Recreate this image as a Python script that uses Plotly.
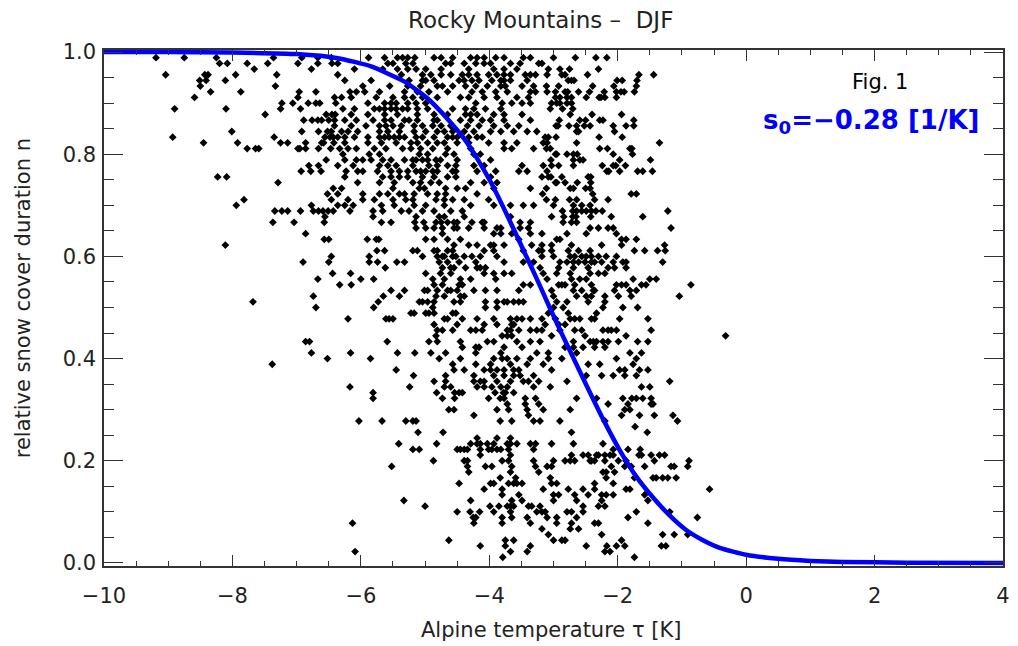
import plotly.graph_objects as go

# Alpine temperature tau [K] of each station-season, grouped by snow-cover days (out of 90 DJF days)
d89 = [-9.19, -8.75, -8.25, -7.36, -6.92, -6.67, -6.46, -5.88, -5.63, -5.43, -5.35, -5.27, -5.16, -4.86, -4.75, -4.57, -4.29, -4.19, -4.08, -3.90, -3.77, -3.47, -3.36, -3.00, -2.66, -2.34, -2.17]
d88 = [-8.20, -8.08, -7.77, -7.45, -6.98, -6.67, -6.45, -6.36, -5.58, -5.50, -5.30, -5.19, -4.68, -4.60, -4.39, -4.21, -4.08, -3.98, -3.67, -3.52, -3.23, -3.18]
d87 = [-7.66, -6.77, -6.10, -5.66, -5.43, -5.27, -5.14, -4.99, -4.75, -4.32, -3.93, -3.77, -3.57, -3.08, -2.90, -2.75, -2.30]
d86 = [-9.04, -8.43, -8.38, -7.95, -7.31, -6.36, -5.37, -5.04, -4.91, -4.75, -4.60, -4.42, -4.32, -4.19, -4.01, -3.88, -3.77, -3.67, -3.44, -3.36, -3.28, -3.10, -2.87, -2.82, -2.47, -1.67, -1.44]
d85 = [-8.51, -8.41, -8.11, -6.25, -5.84, -5.25, -5.04, -4.99, -4.86, -4.47, -4.39, -4.27, -4.16, -3.96, -3.82, -3.77, -3.67, -3.41, -2.77, -2.72, -2.68, -2.01, -1.93, -1.70]
d84 = [-8.50, -7.33, -5.97, -5.55, -5.27, -5.07, -4.81, -4.73, -4.57, -4.37, -4.21, -4.03, -3.82, -3.75, -3.49, -3.31, -3.11, -2.92, -2.39, -2.06, -1.71]
d83 = [-8.34, -7.87, -6.96, -6.70, -6.17, -6.07, -5.94, -5.71, -5.32, -5.12, -4.94, -4.65, -4.27, -4.11, -3.90, -3.72, -3.36, -3.28, -3.10, -2.97, -2.82, -2.78, -2.61, -2.44, -2.21, -2.02, -1.95, -1.90, -1.74]
d82 = [-8.59, -6.98, -6.41, -6.30, -6.15, -5.76, -5.50, -5.32, -5.19, -5.04, -4.81, -4.45, -4.32, -4.08, -3.88, -3.57, -3.39, -2.97, -2.90, -2.79, -2.72, -2.49, -2.29, -2.26, -2.20, -2.02]
d81 = [-7.23, -7.06, -6.82, -6.70, -6.64, -6.39, -5.89, -5.63, -5.53, -5.45, -5.27, -5.14, -4.99, -4.21, -3.80, -3.65, -3.49, -3.36, -3.03, -2.95, -2.90, -2.79, -2.72]
d80 = [-8.90, -8.10, -7.25, -6.94, -6.28, -6.10, -5.79, -5.71, -5.63, -5.53, -5.45, -5.35, -5.27, -5.12, -4.96, -4.57, -4.37, -4.24, -4.06, -3.82, -3.05, -2.86, -2.70]
d79 = [-7.49, -6.54, -6.45, -6.40, -6.15, -5.89, -5.63, -5.43, -5.12, -4.86, -4.65, -4.37, -4.29, -4.19, -3.93, -3.77, -3.49, -2.74, -2.40, -1.94]
d78 = [-6.89, -6.76, -6.67, -6.61, -6.50, -6.41, -6.25, -6.07, -5.81, -5.63, -5.53, -5.32, -5.25, -5.12, -4.86, -4.81, -4.45, -4.29, -4.11, -3.98, -3.77, -3.36, -2.91, -2.59, -2.50, -2.28, -2.23, -1.75]
d77 = [-6.41, -6.15, -5.92, -5.71, -5.61, -5.50, -5.37, -5.17, -5.04, -4.88, -4.75, -4.60, -4.34, -4.16, -3.93, -3.72, -3.54, -2.96, -2.93, -2.76, -2.64, -2.52, -2.43, -2.07, -1.87, -1.75]
d76 = [-8.01, -6.92, -6.66, -6.52, -6.46, -6.30, -6.20, -6.05, -5.71, -5.58, -5.40, -5.17, -4.99, -4.81, -4.70, -4.57, -4.39, -4.24, -3.98, -3.82, -3.62, -3.41, -3.26, -2.64, -2.61, -2.05]
d75 = [-8.93, -7.35, -6.56, -6.48, -6.43, -6.36, -6.25, -6.10, -5.89, -5.71, -5.63, -5.56, -5.48, -5.40, -5.32, -5.14, -5.04, -4.86, -4.65, -4.57, -4.50, -4.32, -4.19, -4.11, -3.13, -3.08, -2.96, -2.29, -1.93]
d74 = [-8.45, -7.92, -7.25, -7.14, -6.86, -6.61, -6.58, -6.42, -6.25, -5.89, -5.68, -5.45, -5.22, -5.12, -4.96, -4.81, -4.70, -4.50, -4.32, -4.01, -3.77, -3.57, -3.16, -3.10, -2.64, -1.35]
d73 = [-7.77, -7.64, -7.59, -6.98, -6.95, -6.86, -6.66, -6.47, -6.33, -6.20, -6.07, -5.79, -5.61, -5.35, -5.22, -5.07, -4.88, -4.65, -4.29, -3.77, -3.65, -3.31, -3.11, -3.05, -2.28, -2.16, -1.81, -1.78]
d72 = [-6.28, -5.87, -5.71, -5.09, -4.96, -4.68, -4.55, -4.24, -4.14, -2.97, -2.95, -2.79, -2.69, -2.63, -2.07, -1.77]
d71 = [-6.54, -6.25, -6.07, -5.97, -5.84, -5.66, -5.53, -5.32, -5.19, -5.14, -5.04, -4.96, -4.83, -4.76, -4.50, -3.98, -3.04, -2.69, -2.59, -2.54, -1.97, -1.49]
d70 = [-6.81, -6.66, -6.36, -6.12, -5.71, -5.58, -5.45, -5.19, -4.94, -4.81, -4.65, -4.52, -4.24, -4.08, -3.49, -3.16, -3.03, -2.92, -2.69, -2.24, -2.07, -2.03, -1.88]
d69 = [-6.93, -6.78, -6.62, -6.23, -6.05, -5.97, -5.74, -5.53, -5.40, -5.27, -5.14, -5.07, -4.99, -4.88, -4.81, -4.57, -4.52, -4.19, -3.90, -3.54, -3.41, -3.10, -2.17, -2.14, -1.97, -1.69, -1.61, -1.46]
d68 = [-8.23, -8.09, -6.25, -5.66, -5.53, -5.40, -5.27, -5.04, -4.86, -4.65, -4.52, -3.98, -3.18, -3.08, -3.04, -2.87, -2.46, -2.42]
d67 = [-7.29, -6.05, -5.71, -5.48, -5.19, -5.07, -4.91, -4.78, -4.29, -4.08, -3.88, -2.97, -2.95, -2.82, -2.63, -2.42]
d66 = [-6.43, -6.30, -5.50, -5.09, -5.01, -4.68, -4.50, -4.37, -3.93, -3.36, -3.11, -2.74, -2.69, -2.50, -2.43]
d65 = [-6.52, -6.36, -5.97, -5.71, -5.58, -5.40, -5.32, -5.17, -4.96, -4.81, -4.68, -4.19, -3.17, -2.39, -1.79, -1.71]
d64 = [-7.82, -6.46, -6.20, -5.97, -5.79, -5.50, -5.30, -5.19, -4.83, -4.70, -4.57, -4.39, -4.01, -3.11, -2.97, -2.75, -2.64, -2.36, -2.15]
d63 = [-7.94, -6.77, -6.36, -6.25, -6.12, -5.68, -5.48, -5.17, -4.99, -4.70, -4.29, -3.93, -3.67, -3.47, -3.31, -3.00, -2.69, -2.56, -2.43]
d62 = [-7.34, -7.23, -7.14, -6.94, -6.74, -6.66, -6.59, -6.51, -6.43, -6.17, -5.81, -5.66, -5.37, -5.25, -5.04, -4.86, -4.60, -4.42, -2.86, -2.70, -2.64, -2.56, -2.49, -2.41, -2.34, -2.24, -1.22]
d61 = [-6.56, -5.81, -5.14, -4.78, -4.70, -4.39, -3.67, -3.03, -2.84, -2.70, -2.65, -2.42, -2.10, -1.61]
d60 = [-7.37, -7.04, -6.57, -5.68, -5.53, -5.16, -5.02, -4.83, -4.75, -4.65, -4.55, -4.50, -4.27, -4.11, -4.08, -3.52, -3.36, -2.85, -2.72, -2.64]
d59 = [-5.14, -4.99, -4.86, -4.73, -4.55, -4.50, -4.32, -4.08, -3.88, -3.82, -3.52, -3.39, -2.43, -2.30, -2.15, -2.07, -1.17]
d58 = [-6.86, -4.73, -3.93, -3.82, -3.65, -3.36, -3.18, -2.79, -2.49, -2.02]
d57 = [-6.57, -6.50, -5.90, -5.76, -5.72, -4.99, -4.86, -4.65, -4.45, -3.54, -2.95, -2.90, -1.94, -1.87, -1.71]
d56 = [-8.11, -4.55, -4.32, -4.19, -3.98, -3.93, -3.77, -3.34, -3.18, -3.03, -2.72, -2.25, -1.94, -1.27]
d55 = [-5.75, -5.63, -5.19, -5.12, -4.86, -4.81, -4.65, -4.57, -4.08, -3.93, -3.47, -3.23, -3.18, -3.03, -2.77, -2.61, -2.43, -1.74, -1.58, -1.38, -1.26]
d54 = [-6.46, -5.87, -5.04, -4.81, -4.73, -4.70, -4.57, -4.52, -4.39, -4.27, -4.14, -3.88, -3.18, -3.00, -2.74, -2.67, -2.56, -2.49, -2.41, -2.30, -2.18, -2.02]
d53 = [-6.90, -6.50, -5.87, -5.74, -5.44, -5.32, -4.78, -4.65, -4.47, -4.21, -3.77, -3.47, -3.31, -2.90, -2.79, -2.69, -2.61, -2.51, -2.41, -2.36, -2.25, -2.07, -1.92, -1.87, -1.30]
d52 = [-5.62, -4.73, -4.60, -4.55, -4.37, -4.19, -4.14, -4.06, -3.21, -2.92, -2.69, -2.46, -2.15, -2.05, -1.87]
d51 = [-6.44, -6.16, -4.99, -4.76, -4.60, -4.08, -3.93, -3.77, -3.65, -3.16, -2.95, -2.74, -2.43, -2.30, -2.20]
d50 = [-6.67, -6.00, -5.80, -4.88, -4.70, -4.45, -4.29, -3.90, -3.10, -2.72, -2.59, -2.49, -1.76, -1.50, -1.40]
d49 = [-6.33, -6.15, -4.86, -4.73, -4.47, -4.42, -3.47, -3.36, -2.92, -2.87, -2.82, -2.67, -2.41, -2.02, -1.94, -1.87, -1.63, -1.56, -0.86]
d48 = [-5.53, -5.32, -5.01, -4.96, -4.81, -4.65, -4.60, -4.50, -4.24, -4.06, -3.88, -3.54, -3.03, -2.69, -2.56, -2.38, -2.36, -2.05, -1.81, -1.71]
d47 = [-6.74, -5.65, -5.40, -4.83, -4.70, -4.45, -4.39, -3.00, -2.64, -2.49, -2.41, -2.20, -1.99, -1.79, -1.04]
d46 = [-7.68, -5.73, -5.09, -5.04, -4.96, -4.86, -4.55, -4.45, -4.06, -3.88, -3.77, -3.72, -3.62, -3.54, -3.47, -2.95, -2.79, -2.46, -2.20]
d45 = [-6.70, -5.80, -4.88, -4.06, -3.88, -3.00, -2.85, -2.23, -1.92, -1.69]
d44 = [-5.22, -5.17, -4.99, -4.94, -4.86, -4.57, -4.52, -3.08, -2.77, -2.33]
d43 = [-6.20, -5.61, -5.56, -5.50, -4.70, -4.65, -4.42, -4.19, -3.93, -3.67, -3.57, -3.49, -3.36, -3.18, -2.97, -2.74, -2.67, -2.59, -2.41, -2.36, -1.97, -1.53]
d42 = [-4.86, -4.50, -4.08, -3.88, -3.65, -3.62, -3.13, -2.92, -2.82]
d41 = [-4.81, -4.73, -4.57, -4.29, -4.21, -4.11, -3.72, -3.67, -3.54, -3.36, -3.26, -3.18, -2.90, -2.67, -2.56, -2.23, -2.15, -2.10, -2.02, -1.48]
d40 = [-4.83, -3.80, -3.72, -3.65, -3.03, -2.51, -1.87, -0.32]
d39 = [-6.86, -6.80, -5.59, -4.94, -4.81, -4.45, -4.03, -3.93, -3.57, -3.36, -3.21, -2.69, -2.43, -2.38, -2.33, -2.23, -2.15, -1.99, -1.69, -1.53]
d38 = [-4.42, -4.21, -4.16, -3.77, -3.49, -2.82, -2.69, -2.54, -2.36, -2.20]
d37 = [-6.77, -6.16, -5.43, -5.16, -4.91, -4.68, -4.21, -3.82, -3.26, -3.08, -2.64, -1.81, -1.63]
d36 = [-6.52, -5.85, -4.78, -4.45, -3.93, -3.80, -3.72, -3.57, -3.36, -3.08, -2.87, -2.02, -1.71]
d35 = [-7.38, -4.57, -4.21, -3.98, -3.67, -3.41, -3.16, -2.46, -2.28, -1.76]
d34 = [-5.45, -4.55, -4.39, -4.08, -3.98, -3.88, -3.77, -3.62, -3.54, -3.03, -1.97, -1.89, -1.66, -1.53]
d33 = [-5.18, -4.68, -4.24, -3.93, -3.77, -3.62, -3.52, -3.31, -2.49, -2.25, -2.07, -1.89, -1.71]
d32 = [-4.86, -4.68, -4.24, -4.14, -4.08, -3.88, -3.67, -3.47, -3.39, -3.23, -2.79, -1.19]
d31 = [-6.17, -5.24, -4.70, -4.60, -4.19, -4.08, -3.96, -3.82, -3.72, -3.31, -3.05, -1.63, -1.50]
d30 = [-5.81, -4.82, -4.54, -4.47, -4.42, -3.91, -3.78, -3.75, -3.62]
d29 = [-5.81, -4.73, -4.54, -4.01, -3.83, -3.77, -3.44, -3.28, -2.64, -2.33, -1.92, -1.78, -1.71, -1.61, -1.48]
d28 = [-3.72, -3.44, -3.23, -2.15, -1.84, -1.48, -1.45]
d27 = [-4.63, -4.55, -3.88, -3.70, -3.41, -3.16, -2.74, -1.89, -1.81]
d26 = [-4.24, -3.39, -1.94, -1.66, -1.43, -1.14]
d25 = [-6.03, -5.67, -5.30, -5.19, -5.14, -3.83, -3.65, -3.31, -3.21, -2.90, -2.20, -1.07]
d24 = [-1.73]
d23 = [-5.11, -4.72, -2.72, -1.54]
d22 = [-4.19, -3.88, -3.67]
d21 = [-5.41, -4.82, -4.29, -4.19, -4.14, -4.03, -3.93, -3.72, -3.67, -3.57, -3.36, -3.28, -3.03, -2.69, -2.23]
d20 = [-5.19, -5.09, -4.50, -4.45, -4.39, -4.34, -4.14, -4.01, -3.96, -3.88, -3.82, -3.70, -3.31, -2.07, -1.84, -1.65]
d19 = [-4.14, -3.67, -2.72, -2.54, -2.46, -2.33, -2.30, -2.20, -2.12, -2.07, -1.67, -1.63, -1.48, -1.35, -1.27]
d18 = [-4.87, -4.39, -4.34, -3.80, -3.70, -3.31, -3.00, -2.82, -2.74, -2.67, -2.43, -2.41, -2.36, -2.20, -1.99, -1.87, -1.43, -0.89]
d17 = [-5.52, -4.34, -4.06, -3.96, -3.65, -3.28, -3.10, -3.03, -2.10, -1.89, -1.79, -1.58, -1.17, -1.12, -0.91]
d16 = [-4.32, -3.67, -3.23, -2.23, -2.18, -2.05]
d15 = [-3.83, -3.59, -3.05, -2.18, -1.74, -1.45, -1.40, -1.30, -1.22, -1.09]
d14 = [-4.47, -3.98, -3.93, -3.70, -3.62, -3.57, -3.49, -3.03, -2.95, -2.36, -2.07]
d13 = [-4.08, -3.80, -3.16, -2.77, -2.54, -2.36, -1.87, -1.81, -0.57]
d12 = [-3.80, -3.54, -3.00, -2.92, -2.67, -2.46, -2.25, -2.18, -2.07, -1.58]
d11 = [-5.33, -4.29, -3.65, -3.49, -3.00, -2.64, -2.25, -1.53]
d10 = [-5.00, -3.99, -3.85, -3.72, -3.67, -3.62, -3.39, -3.34, -3.21, -2.54, -2.30, -2.20]
d09 = [-4.50, -4.30, -4.15, -3.93, -3.67, -3.26, -3.18, -3.13, -2.79, -2.72, -2.54, -1.71, -1.19]
d08 = [-4.25, -4.21, -3.80, -3.65, -3.41, -3.10, -2.95, -2.64, -1.84, -0.76]
d07 = [-6.13, -4.24, -3.80, -3.36, -2.95, -2.72, -2.36, -2.30, -1.53]
d06 = [-3.18, -2.74, -2.61]
d05 = [-3.08, -2.25, -1.30, -1.12, -0.91]
d04 = [-4.63, -3.75, -3.62, -3.00, -2.87, -2.82, -1.94]
d03 = [-4.14, -3.75, -3.36, -2.49, -2.17, -2.02, -1.89, -1.32, -1.25]
d02 = [-6.09, -3.67, -3.41, -2.20, -2.12]
d01 = [-3.79, -1.74]

SEASON_DAYS = 90  # DJF

# fitted curve
curve_tau = [-10.0, -9.0, -8.0, -7.0, -6.36, -5.84, -5.32, -4.96, -4.65, -4.39, -4.19, -3.98, -3.72,
             -3.46, -3.26, -3.06, -2.85, -2.64, -2.48, -2.23, -1.97, -1.71, -1.45, -1.20, -0.94, -0.68,
             -0.40, 0.0, 0.5, 1.0, 1.5, 2.5, 4.0]
curve_n = [1.0, 1.0, 0.999, 0.996, 0.988, 0.972, 0.942, 0.909, 0.869, 0.830, 0.792, 0.746, 0.680,
           0.610, 0.556, 0.500, 0.443, 0.388, 0.346, 0.282, 0.221, 0.169, 0.128, 0.094, 0.065, 0.045,
           0.029, 0.016, 0.008, 0.004, 0.002, 0.0005, 0.0]

x_ticks = [-10, -8, -6, -4, -2, 0, 2, 4]
y_ticks = [0.0, 0.2, 0.4, 0.6, 0.8, 1.0]

tau, n = [], []
for days in range(1, SEASON_DAYS):
    row = globals()[f"d{days:02d}"]
    tau.extend(row)
    n.extend([days / SEASON_DAYS] * len(row))

FONT = "DejaVu Sans"
TXT = "#222222"
AX = "#333333"

fig = go.Figure()
fig.add_trace(go.Scatter(x=tau, y=n, mode="markers",
                         marker=dict(symbol="diamond", size=6, color="black", line=dict(width=0)),
                         showlegend=False, hoverinfo="skip"))
fig.add_trace(go.Scatter(x=curve_tau, y=curve_n, mode="lines",
                         line=dict(color="#0000ff", width=4.5, shape="spline", smoothing=0.5),
                         showlegend=False, hoverinfo="skip"))

axis_common = dict(showline=True, linecolor=AX, linewidth=1.5, mirror="allticks",
                   ticks="inside", tickcolor=AX, tickwidth=1.2, showgrid=False, zeroline=False,
                   tickfont=dict(family=FONT, size=21, color=TXT))

fig.update_xaxes(range=[-10, 4], tickvals=x_ticks, ticklen=11, ticklabelstandoff=10,
                 minor=dict(dtick=0.5, ticks="inside", ticklen=5, tickcolor=AX, tickwidth=1.2),
                 **axis_common)
fig.update_yaxes(range=[-0.006, 1.004], tickvals=y_ticks, tickformat=".1f", ticklen=19,
                 ticklabelstandoff=2,
                 minor=dict(dtick=0.05, ticks="inside", ticklen=10, tickcolor=AX, tickwidth=1.2),
                 **axis_common)

annotations = [
    dict(text="Rocky Mountains \u2013\u00a0\u00a0DJF", x=0.486, y=1.058, xref="paper", yref="paper",
         xanchor="center", yanchor="middle", showarrow=False, font=dict(family=FONT, size=23, color=TXT)),
    dict(text="Alpine temperature \u03c4 [K]", x=0.4975, y=-0.124, xref="paper", yref="paper",
         xanchor="center", yanchor="middle", showarrow=False, font=dict(family=FONT, size=21, color=TXT)),
    dict(text="relative snow cover duration n", x=-0.09, y=0.519, xref="paper", yref="paper",
         xanchor="center", yanchor="middle", textangle=-90, showarrow=False,
         font=dict(family=FONT, size=21, color=TXT)),
    dict(text="Fig. 1", x=0.863, y=0.938, xref="paper", yref="paper",
         xanchor="center", yanchor="middle", showarrow=False, font=dict(family=FONT, size=21, color="black")),
    dict(text="<b>s<sub>0</sub>=\u22120.28 [1/K]</b>", x=0.975, y=0.862, xref="paper", yref="paper",
         xanchor="right", yanchor="middle", showarrow=False, font=dict(family=FONT, size=26, color="#0000ff")),
]

# the page body adds an 8 px margin, so the figure is sized/offset to place the plot area
# at the reference position in the 1018x646 window
fig.update_layout(width=1010, height=638, margin=dict(l=96, r=8, t=42, b=80),
                  plot_bgcolor="white", paper_bgcolor="rgba(0,0,0,0)", annotations=annotations,
                  font=dict(family=FONT, color=TXT))

fig.write_html("out.html")
